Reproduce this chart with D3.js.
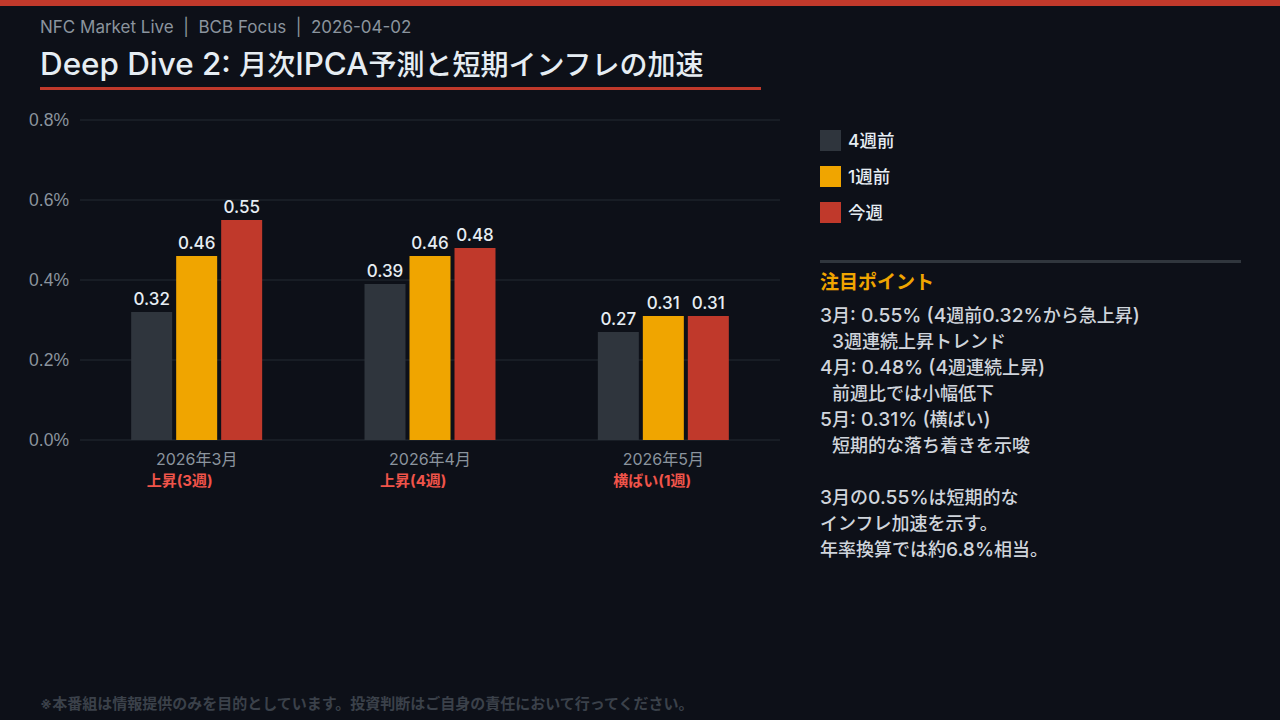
<!DOCTYPE html>
<html>
<head>
<meta charset="utf-8">
<script src="https://cdn.jsdelivr.net/npm/d3@7"></script>
<style>
  html, body { margin: 0; padding: 0; background: #0d1018; }
  svg { display: block; font-family: Inter, "Noto Sans CJK JP", sans-serif; }
</style>
</head>
<body>
<svg id="drawing_region"></svg>
<script>
// data
const months = ["2026年3月", "2026年4月", "2026年5月"];
const trendNotes = ["上昇(3週)", "上昇(4週)", "横ばい(1週)"];
const seriesNames = ["4週前", "1週前", "今週"];
const fourWeeksAgo = [0.32, 0.39, 0.27];
const oneWeekAgo = [0.46, 0.46, 0.31];
const thisWeek = [0.55, 0.48, 0.31];
const yTicks = [0, 0.2, 0.4, 0.6, 0.8];
const colors = ["#2f353d", "#f0a500", "#c0392b"];
const notes = [
  {t: "3月: 0.55% (4週前0.32%から急上昇)", indent: false},
  {t: "3週連続上昇トレンド", indent: true},
  {t: "4月: 0.48% (4週連続上昇)", indent: false},
  {t: "前週比では小幅低下", indent: true},
  {t: "5月: 0.31% (横ばい)", indent: false},
  {t: "短期的な落ち着きを示唆", indent: true},
  {t: "", indent: false},
  {t: "3月の0.55%は短期的な", indent: false},
  {t: "インフレ加速を示す。", indent: false},
  {t: "年率換算では約6.8%相当。", indent: false}
];

const W = 1280, H = 720;
const svg = d3.select('#drawing_region').attr('width', W).attr('height', H);

// 英数字だけ少し大きくする (Latin runs a bit wider, like the reference)
function mixedText(sel, str, size, latinScale) {
  const runs = str.match(/[\x20-\x7e]+|[^\x20-\x7e]+/g) || [];
  runs.forEach(r => {
    const latin = /^[\x20-\x7e]+$/.test(r);
    sel.append('tspan')
        .attr('font-size', (latin ? size * latinScale : size) + 'px')
        .style('white-space', 'pre')
        .text(r);
  });
}

svg.append('rect').attr('width', W).attr('height', H).attr('fill', '#0d1018');
svg.append('rect').attr('width', W).attr('height', 6).attr('fill', '#c0392b');

// header
svg.append('text')
    .attr('x', 40).attr('y', 33)
    .attr('fill', '#8b949e')
    .attr('font-size', '17px')
    .style('white-space', 'pre')
    .text("NFC Market Live  |  BCB Focus  |  2026-04-02");

const title = svg.append('text')
    .attr('x', 40).attr('y', 75)
    .attr('fill', '#e6edf3')
    .attr('font-weight', 500);
mixedText(title, "Deep Dive 2: 月次IPCA予測と短期インフレの加速", 28, 1.12);

svg.append('rect')
    .attr('x', 40).attr('y', 87).attr('width', 721).attr('height', 3)
    .attr('fill', '#c0392b');

// chart
const margin = {left: 80, top: 120};
const innerW = 700, innerH = 320;
const chart = svg.append('g').attr('transform', `translate(${margin.left}, ${margin.top})`);

const data = months.map((m, i) => ({
  month: m, note: trendNotes[i],
  values: [fourWeeksAgo[i], oneWeekAgo[i], thisWeek[i]]
}));

const x0 = d3.scaleBand().domain(months).range([0, innerW]).padding(0);
const x1 = d3.scaleBand().domain(seriesNames).range([-65.5, 65.5]).paddingInner(4 / 45);
const y = d3.scaleLinear().domain([0, 0.8]).range([innerH, 0]);

// grid
chart.append('g')
    .selectAll('line')
    .data(yTicks)
    .join('line')
    .attr('x1', 0).attr('x2', innerW)
    .attr('y1', d => y(d)).attr('y2', d => y(d))
    .attr('stroke', '#242a33')
    .attr('stroke-width', 1);

const yaxis = d3.axisLeft(y).tickValues(yTicks).tickFormat(d => d.toFixed(1) + '%').tickSize(0).tickPadding(11);
const yg = chart.append('g').call(yaxis);
yg.select('.domain').remove();
yg.selectAll('text').attr('fill', '#8b949e').attr('font-size', '17.5px').attr('font-family', null);

// bars
const groups = chart.selectAll('g.grp')
    .data(data)
    .join('g')
    .attr('class', 'grp')
    .attr('transform', d => `translate(${x0(d.month) + x0.bandwidth() / 2}, 0)`);

groups.selectAll('rect')
    .data(d => d.values.map((v, i) => ({v, s: seriesNames[i], c: colors[i]})))
    .join('rect')
    .attr('x', d => x1(d.s))
    .attr('y', d => y(d.v))
    .attr('width', x1.bandwidth())
    .attr('height', d => innerH - y(d.v))
    .attr('fill', d => d.c);

groups.selectAll('text.val')
    .data(d => d.values.map((v, i) => ({v, s: seriesNames[i]})))
    .join('text')
    .attr('class', 'val')
    .attr('x', d => x1(d.s) + x1.bandwidth() / 2)
    .attr('y', d => y(d.v) - 7)
    .attr('text-anchor', 'middle')
    .attr('fill', '#e6edf3')
    .attr('font-size', '17px')
    .attr('font-weight', 500)
    .text(d => d.v.toFixed(2));

groups.append('text')
    .attr('x', 0).attr('y', innerH + 25)
    .attr('text-anchor', 'middle')
    .attr('fill', '#8b949e')
    .attr('font-size', '16px')
    .text(d => d.month);

groups.append('text')
    .attr('x', -50).attr('y', innerH + 46)
    .attr('fill', '#f0544a')
    .attr('font-size', '15px')
    .attr('font-weight', 700)
    .text(d => d.note);

// legend
const legend = svg.append('g').attr('transform', 'translate(820, 130)');
const li = legend.selectAll('g')
    .data(seriesNames)
    .join('g')
    .attr('transform', (d, i) => `translate(0, ${i * 36})`);
li.append('rect').attr('width', 21).attr('height', 21).attr('fill', (d, i) => colors[i]);
li.append('text')
    .attr('x', 28).attr('y', 17)
    .attr('fill', '#e6edf3')
    .attr('font-size', '17.5px')
    .attr('font-weight', 500)
    .text(d => d);

// notes panel
svg.append('rect').attr('x', 820).attr('y', 260).attr('width', 421).attr('height', 3).attr('fill', '#30363d');
svg.append('text')
    .attr('x', 820).attr('y', 289)
    .attr('fill', '#f0a500')
    .attr('font-size', '19px')
    .attr('font-weight', 700)
    .text("注目ポイント");

svg.append('g')
    .selectAll('text')
    .data(notes)
    .join('text')
    .attr('x', d => d.indent ? 832 : 820)
    .attr('y', (d, i) => 322 + i * 26)
    .attr('fill', '#d0d5dc')
    .attr('font-weight', 500)
    .each(function(d) { mixedText(d3.select(this), d.t, 18, 1.07); });

// footer
svg.append('text')
    .attr('x', 40).attr('y', 709)
    .attr('fill', '#3b414a')
    .attr('font-size', '15px')
    .attr('font-weight', 700)
    .text("※本番組は情報提供のみを目的としています。投資判断はご自身の責任において行ってください。");
</script>
</body>
</html>
